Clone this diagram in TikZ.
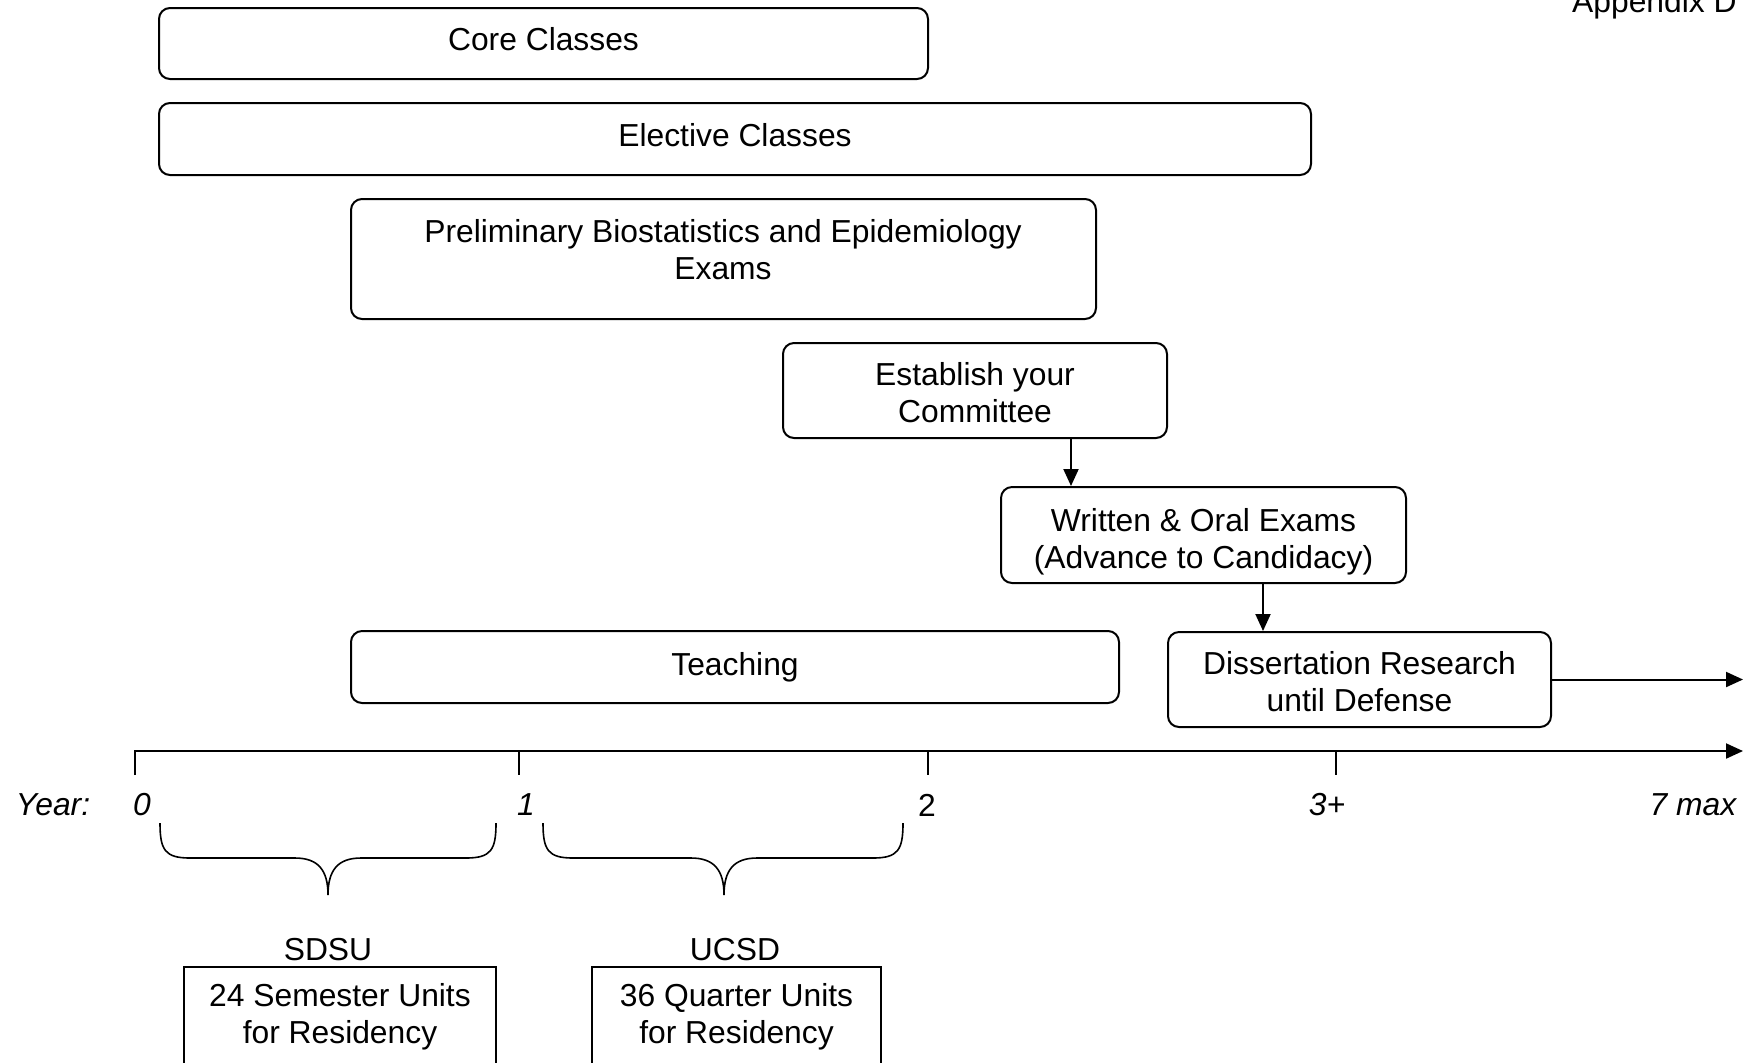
\documentclass[tikz,border=0pt]{standalone}
\usepackage{fontspec}
\setmainfont{Liberation Sans}
\usetikzlibrary{arrows.meta}
\newcommand\diagfont{\fontsize{15.9}{18.4}\selectfont}
\begin{document}
\begin{tikzpicture}[x=0.5pt,y=-0.5pt, font=\diagfont,
  box/.style={draw, line width=1pt, rounded corners=5.5pt, align=center, inner sep=0pt},
  sqbox/.style={draw, line width=1pt, align=center, inner sep=0pt},
  arr/.style={line width=1pt, -{Triangle[length=8.5pt,width=7.5pt]}},
  lbl/.style={inner sep=0pt, align=center},
  itl/.style={inner sep=0pt, font=\diagfont\itshape},
  tickln/.style={line width=1pt},
  brace/.style={line width=0.8pt}]
\clip (0,0) rectangle (1744,1062);
\fill[white] (0,0) rectangle (1744,1062);

\node[lbl, anchor=base east] (app) at (1737,12) {Appendix D};

\node[box, minimum width=384.5pt, minimum height=35.5pt, text depth=4.4pt] (core) at (543.5,43.5) {Core Classes};
\node[box, minimum width=576pt, minimum height=36pt, text depth=4.4pt] (elec) at (735,139) {Elective Classes};
\node[box, minimum width=372.5pt, minimum height=60pt] (prelim) at (723.5,259) {};
\node[lbl] (prelimtxt) at (723,250) {Preliminary Biostatistics and Epidemiology\\Exams};
\node[box, minimum width=192pt, minimum height=47.5pt] (estab) at (975,390.5) {};
\node[lbl] (estabtxt) at (975,393) {Establish your\\Committee};
\node[box, minimum width=202.5pt, minimum height=48pt] (written) at (1203.5,535) {};
\node[lbl] (writtentxt) at (1203.5,541.5) {Written \& Oral Exams\\(Advance to Candidacy)};
\node[box, minimum width=384pt, minimum height=36pt] (teach) at (735,667) {Teaching};
\node[box, minimum width=191.5pt, minimum height=47.5pt] (diss) at (1359.5,679.5) {};
\node[lbl] (disstxt) at (1359.5,682) {Dissertation Research\\until Defense};

\coordinate (a1) at (1071,0);
\coordinate (a2) at (1263,0);
\draw[arr] (estab.south -| a1) -- (written.north -| a1);
\draw[arr] (written.south -| a2) -- (diss.north -| a2);
\coordinate (dissend) at (1743,679.5);
\draw[arr] (diss.east) -- (dissend);

% axis
\coordinate (ax0) at (135,751);
\coordinate (axend) at (1743,751);
\draw[arr] (135,775) -- (ax0) -- (axend);
\foreach \x in {519,928,1336} \draw[tickln] (\x,751) -- (\x,775);

\node[itl] (year) at (53,805) {Year:};
\node[itl] (y0) at (142,805) {0};
\node[itl] (y1) at (526,805) {1};
\node[lbl] (y2) at (927,805) {2};
\node[itl] (y3) at (1327,805) {3+};
\node[itl] (y7) at (1693,805) {7 max};

% braces
\draw[brace] (160,823) .. controls (160,850) and (165,858) .. (190,858) -- (295,858)
  .. controls (318,858) and (328,870) .. (328,895)
  .. controls (328,870) and (338,858) .. (361,858) -- (466,858)
  .. controls (491,858) and (496,850) .. (496,823);
\draw[brace] (543,823) .. controls (543,850) and (548,858) .. (573,858) -- (691,858)
  .. controls (714,858) and (724,870) .. (724,895)
  .. controls (724,870) and (734,858) .. (757,858) -- (873,858)
  .. controls (898,858) and (903,850) .. (903,823);

\node[lbl] (sdsu) at (328,950) {SDSU};
\node[lbl] (ucsd) at (735,950) {UCSD};
\node[sqbox, minimum width=156pt, minimum height=49.5pt] (sdsubox) at (340,1016.5) {24 Semester Units\\for Residency};
\node[sqbox, minimum width=144.5pt, minimum height=49.5pt] (ucsdbox) at (736.5,1016.5) {36 Quarter Units\\for Residency};
\end{tikzpicture}
\end{document}
